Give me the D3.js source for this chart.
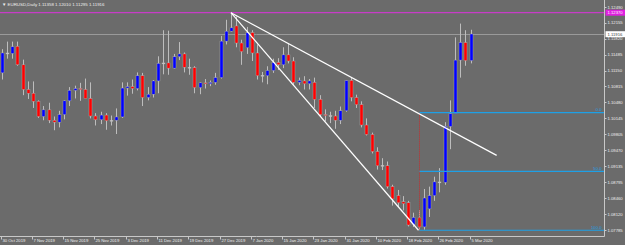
<!DOCTYPE html>
<html>
<head>
<meta charset="utf-8">
<script src="https://cdn.jsdelivr.net/npm/d3@7"></script>
<style>
  html, body { margin: 0; padding: 0; background: #6b6b6b; }
  svg { display: block; }
  text { font-family: "Liberation Sans", Arial, sans-serif; }
</style>
</head>
<body>
<div id="chart"></div>
<script>
// EURUSD daily, 30 Oct 2019 .. 5 Mar 2020 (one entry per bar)
const opens = [1.1110,1.1152,1.1151,1.1166,1.1127,1.1075,1.1067,1.1050,1.1018,1.1032,
  1.1010,1.1006,1.1022,1.1051,1.1073,1.1077,1.1075,1.1056,1.1019,1.1011,
  1.1021,1.1009,1.1010,1.1017,1.1078,1.1081,1.1077,1.1104,1.1058,1.1065,
  1.1093,1.1130,1.1131,1.1120,1.1144,1.1150,1.1122,1.1121,1.1079,1.1089,
  1.1087,1.1090,1.1100,1.1177,1.1198,1.1209,1.1173,1.1163,1.1195,1.1152,
  1.1104,1.1104,1.1115,1.1132,1.1127,1.1148,1.1135,1.1090,1.1093,1.1087,
  1.1090,1.1054,1.1022,1.1020,1.1019,1.1010,1.1030,1.1094,1.1058,1.1043,
  1.1000,1.0980,1.0944,1.0914,1.0914,1.0870,1.0851,1.0838,1.0836,1.0790,
  1.0804,1.0785,1.0823,1.0851,1.0880,1.0879,1.0997,1.1024,1.1137,1.1174,
  1.1136];
const highs = [1.1160,1.1176,1.1176,1.1176,1.1138,1.1092,1.1092,1.1052,1.1040,1.1047,
  1.1018,1.1030,1.1052,1.1080,1.1083,1.1089,1.1098,1.1090,1.1025,1.1028,
  1.1025,1.1020,1.1035,1.1090,1.1090,1.1096,1.1111,1.1110,1.1080,1.1095,
  1.1145,1.1200,1.1199,1.1150,1.1175,1.1153,1.1140,1.1124,1.1090,1.1097,
  1.1094,1.1110,1.1188,1.1222,1.1237,1.1229,1.1180,1.1207,1.1200,1.1170,
  1.1112,1.1124,1.1140,1.1141,1.1164,1.1173,1.1143,1.1100,1.1103,1.1097,
  1.1100,1.1063,1.1033,1.1028,1.1030,1.1039,1.1095,1.1100,1.1064,1.1050,
  1.1014,1.0984,1.0953,1.0930,1.0923,1.0874,1.0863,1.0850,1.0840,1.0815,
  1.0820,1.0865,1.0870,1.0891,1.0909,1.1006,1.1052,1.1185,1.1214,1.1200,
  1.1201];
const lows = [1.1096,1.1140,1.1140,1.1125,1.1063,1.1055,1.1036,1.1015,1.1010,1.1004,
  1.0989,1.0995,1.1012,1.1040,1.1056,1.1051,1.1057,1.1014,1.0999,1.1002,
  1.0990,1.0999,1.0981,1.1015,1.1062,1.1066,1.1073,1.1040,1.1052,1.1058,
  1.1067,1.1107,1.1106,1.1119,1.1137,1.1111,1.1106,1.1067,1.1065,1.1077,
  1.1082,1.1085,1.1098,1.1170,1.1197,1.1164,1.1127,1.1150,1.1135,1.1096,
  1.1090,1.1086,1.1110,1.1116,1.1120,1.1130,1.1085,1.1084,1.1075,1.1075,
  1.1036,1.1018,1.1008,1.1004,1.0992,1.1002,1.1028,1.1050,1.1036,1.0995,
  1.0978,1.0940,1.0906,1.0905,1.0866,1.0830,1.0827,1.0820,1.0786,1.0785,
  1.0778,1.0779,1.0806,1.0840,1.0858,1.0874,1.0949,1.1025,1.1100,1.1125,
  1.1130];
const closes = [1.1152,1.1151,1.1165,1.1127,1.1075,1.1067,1.1050,1.1018,1.1032,1.1010,
  1.1006,1.1022,1.1051,1.1073,1.1077,1.1075,1.1056,1.1019,1.1011,1.1021,
  1.1009,1.1010,1.1017,1.1078,1.1081,1.1077,1.1104,1.1058,1.1065,1.1093,
  1.1130,1.1131,1.1120,1.1144,1.1150,1.1122,1.1121,1.1079,1.1089,1.1087,
  1.1090,1.1100,1.1177,1.1198,1.1205,1.1173,1.1155,1.1195,1.1152,1.1104,
  1.1105,1.1115,1.1132,1.1127,1.1148,1.1135,1.1090,1.1094,1.1087,1.1093,
  1.1054,1.1022,1.1020,1.1019,1.1010,1.1030,1.1094,1.1058,1.1043,1.1000,
  1.0980,1.0944,1.0914,1.0915,1.0870,1.0844,1.0836,1.0834,1.0789,1.0805,
  1.0785,1.0846,1.0851,1.0880,1.0880,1.0997,1.1024,1.1137,1.1174,1.1136,
  1.1192];

// time axis labels (every 6th bar)
const timeTickBars = [0,6,12,18,24,30,36,42,48,54,60,66,72,78,84,90];
const timeTickLabels = ["30 Oct 2019","7 Nov 2019","15 Nov 2019","25 Nov 2019","3 Dec 2019",
  "11 Dec 2019","19 Dec 2019","27 Dec 2019","7 Jan 2020","15 Jan 2020","23 Jan 2020",
  "31 Jan 2020","10 Feb 2020","18 Feb 2020","26 Feb 2020","5 Mar 2020"];

// price axis labels
const priceTicks = [1.12490,1.12155,1.11820,1.11485,1.11150,1.10815,1.10480,1.10145,
  1.09805,1.09470,1.09135,1.08795,1.08460,1.08120,1.07785];

// objects on the chart
const titleText = "EURUSD,Daily  1.11358 1.12010 1.11295 1.11916";
const bidPrice = 1.11916;
const hLinePrice = 1.12370;
const trendLines = [ // [bar, price] pairs
  [[44, 1.1237], [80, 1.0778]],
  [[44, 1.1237], [95, 1.0936]]
];
const fibBar = 80, fibHigh = 1.1026, fibLow = 1.0778;
const fibLevels = [0, 50, 100];

const W = 625, H = 245;
const plotRight = 604.5, plotBottom = 236.5;

const bars = opens.map((o, i) => ({i, o, h: highs[i], l: lows[i], c: closes[i]}));

const x = d3.scaleLinear().domain([0, 90]).range([1.7, 470.6]);
const y = d3.scaleLinear().domain([1.12490, 1.07785]).range([7, 230]);

const svg = d3.select("#chart").append("svg")
  .attr("width", W).attr("height", H)
  .attr("viewBox", `0 0 ${W} ${H}`);

svg.append("rect").attr("width", W).attr("height", H).attr("fill", "#6b6b6b");

const plot = svg.append("g");
plot.append("clipPath").attr("id", "clip")
  .append("rect").attr("width", plotRight).attr("height", plotBottom);
const inner = plot.append("g").attr("clip-path", "url(#clip)");

// bid line and horizontal line
inner.append("line")
  .attr("x1", 0).attr("x2", plotRight)
  .attr("y1", Math.round(y(bidPrice)) + 0.5).attr("y2", Math.round(y(bidPrice)) + 0.5)
  .attr("stroke", "#9a9a9a").attr("stroke-width", 1);
inner.append("line")
  .attr("x1", 0).attr("x2", plotRight)
  .attr("y1", y(hLinePrice)).attr("y2", y(hLinePrice))
  .attr("stroke", "#c83cc8").attr("stroke-width", 1.2);

// candles
const cx = i => Math.round(x(i)) + 0.5;
inner.selectAll("line.wick").data(bars).join("line")
  .attr("class", "wick")
  .attr("x1", d => cx(d.i)).attr("x2", d => cx(d.i))
  .attr("y1", d => y(d.h)).attr("y2", d => y(d.l))
  .attr("stroke", "#bdbdbd").attr("stroke-width", 1);

inner.selectAll("rect.body").data(bars).join("rect")
  .attr("class", "body")
  .attr("x", d => cx(d.i) - 1.5)
  .attr("width", 3)
  .attr("y", d => y(Math.max(d.o, d.c)))
  .attr("height", d => Math.max(1, Math.abs(y(d.o) - y(d.c))))
  .attr("fill", d => Math.abs(d.c - d.o) < 0.00015 ? "#d8d8d8" : (d.c > d.o ? "#0000ff" : "#ff0000"))
  .attr("stroke", "#b0b0b0").attr("stroke-width", 0.4);

// fibonacci
inner.append("line")
  .attr("x1", cx(fibBar)).attr("x2", cx(fibBar))
  .attr("y1", y(fibHigh)).attr("y2", y(fibLow))
  .attr("stroke", "#e02020").attr("stroke-width", 0.8)
  .attr("stroke-dasharray", "1,1");
const fibPrice = lv => fibHigh - (fibHigh - fibLow) * lv / 100;
inner.selectAll("line.fib").data(fibLevels).join("line")
  .attr("class", "fib")
  .attr("x1", cx(fibBar)).attr("x2", plotRight)
  .attr("y1", d => y(fibPrice(d))).attr("y2", d => y(fibPrice(d)))
  .attr("stroke", "#1ea0e6").attr("stroke-width", 1.2);
inner.selectAll("text.fib").data(fibLevels).join("text")
  .attr("class", "fib")
  .attr("x", plotRight - 3).attr("y", d => y(fibPrice(d)) - 1.2)
  .attr("text-anchor", "end")
  .attr("font-size", 4.2).attr("fill", "#1ea0e6")
  .text(d => d.toFixed(1));

// trend lines
inner.selectAll("line.trend").data(trendLines).join("line")
  .attr("class", "trend")
  .attr("x1", d => x(d[0][0])).attr("y1", d => y(d[0][1]))
  .attr("x2", d => x(d[1][0])).attr("y2", d => y(d[1][1]))
  .attr("stroke", "#ffffff").attr("stroke-width", 1.2);

// frame
svg.append("line").attr("x1", 0).attr("x2", plotRight).attr("y1", plotBottom).attr("y2", plotBottom)
  .attr("stroke", "#c8c8c8").attr("stroke-width", 1);
svg.append("line").attr("x1", plotRight).attr("x2", plotRight).attr("y1", 0).attr("y2", plotBottom)
  .attr("stroke", "#c8c8c8").attr("stroke-width", 1);

// price axis
const pa = svg.append("g");
pa.selectAll("line").data(priceTicks).join("line")
  .attr("x1", plotRight).attr("x2", plotRight + 2)
  .attr("y1", d => Math.round(y(d)) + 0.5).attr("y2", d => Math.round(y(d)) + 0.5)
  .attr("stroke", "#c8c8c8");
pa.selectAll("text").data(priceTicks).join("text")
  .attr("x", plotRight + 3).attr("y", d => y(d) + 1.5)
  .attr("font-size", 4.2).attr("fill", "#f0f0f0")
  .text(d => d.toFixed(5));

// highlighted price labels
function priceBox(p, bg, fg) {
  const g = svg.append("g");
  g.append("rect").attr("x", plotRight + 1).attr("y", y(p) - 3)
    .attr("width", W - plotRight - 1).attr("height", 6).attr("fill", bg);
  g.append("text").attr("x", plotRight + 3).attr("y", y(p) + 1.5)
    .attr("font-size", 4.2).attr("fill", fg).text(p.toFixed(5));
}
priceBox(hLinePrice, "#e020e0", "#ffffff");
priceBox(bidPrice, "#ffffff", "#404040");

// time axis
const ta = svg.append("g");
ta.selectAll("line").data(timeTickBars).join("line")
  .attr("x1", d => cx(d) - 1).attr("x2", d => cx(d) - 1)
  .attr("y1", plotBottom).attr("y2", plotBottom + 3)
  .attr("stroke", "#c8c8c8");
ta.selectAll("text").data(timeTickBars).join("text")
  .attr("x", d => cx(d)).attr("y", plotBottom + 5.5)
  .attr("font-size", 4.2).attr("fill", "#f0f0f0")
  .text((d, k) => timeTickLabels[k]);

// title
svg.append("text").attr("x", 2).attr("y", 6)
  .attr("font-size", 4.4).attr("fill", "#f0f0f0")
  .text("\u25BC " + titleText);
</script>
</body>
</html>
